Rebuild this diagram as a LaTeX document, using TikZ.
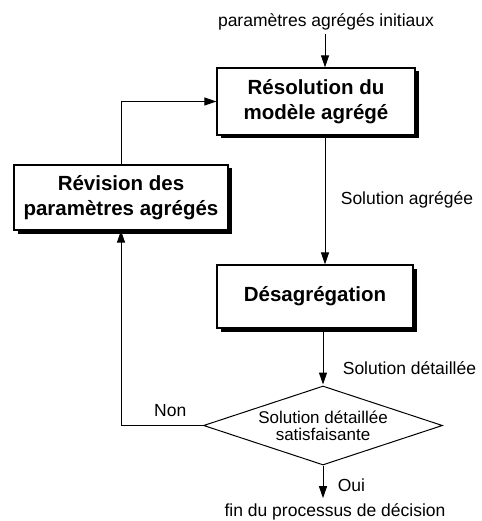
\documentclass[tikz,border=0pt]{standalone}
\usepackage{fontspec}
\setmainfont{Liberation Sans}
\usetikzlibrary{shapes.geometric, arrows.meta, shadows, calc}

\begin{document}
\begin{tikzpicture}[
    x=1pt, y=-1pt,
    bloc/.style={rectangle, draw, line width=1.2pt, fill=white, align=center,
        font=\fontsize{20.5}{25}\selectfont\bfseries,
        drop shadow={shadow xshift=3.5pt, shadow yshift=-3.5pt, fill=black, opacity=1}},
    test/.style={diamond, draw, line width=1pt, fill=white, aspect=3, inner sep=0pt, align=center,
        font=\fontsize{17}{17}\selectfont},
    label/.style={font=\fontsize{17.5}{20}\selectfont},
    arrow/.style={-{Triangle[length=12pt, width=8pt]}, line width=1pt}
]
\useasboundingbox (0,0) rectangle (481,521);

% Axis of the main flow
\coordinate (axis) at (325,0);

% Nodes
\node[label] (init) at (326,22) {paramètres agrégés initiaux};
\node[bloc, minimum width=198pt, minimum height=67pt] (res) at (316,101.5) {Résolution du\\modèle agrégé};
\node[bloc, minimum width=214pt, minimum height=65pt] (rev) at (121,197.5) {Révision des\\paramètres agrégés};
\node[bloc, minimum width=196pt, minimum height=63pt] (des) at (315,296.5) {Désagrégation};
\node[test, minimum width=239pt, minimum height=79pt] (dec) at (323,425.5) {Solution détaillée\\satisfaisante};
\node[label] (fin) at (335,512) {fin du processus de décision};

% Connections
\draw[arrow] (init.south -| axis) -- (res.north -| axis);
\draw[arrow] (res.south -| axis) -- (des.north -| axis)
    node[label, pos=0.5, anchor=west, xshift=12pt] (agg) {Solution agrégée};
\draw[arrow] (des.south -| dec.north) -- ($(dec.north)+(0,-1)$)
    node[label, pos=0.7, anchor=west, xshift=16pt] (det) {Solution détaillée};
\draw[arrow] (rev.north) |- (res.west);
\draw[arrow] (dec.west) -| (rev.south)
    node[label, pos=0.2, above, yshift=5pt] (non) {Non};
\draw[arrow] (dec.south) -- ($(dec.south |- fin.north)+(0,-2)$)
    node[label, pos=0.6, anchor=west, xshift=11pt] (oui) {Oui};

\end{tikzpicture}
\end{document}
